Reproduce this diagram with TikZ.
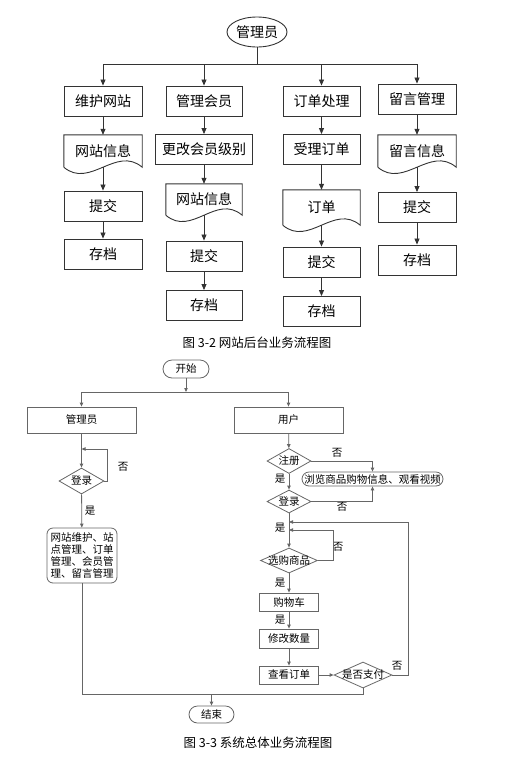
\documentclass[tikz,border=0pt]{standalone}
\usepackage{fontspec}
\newfontfamily\cjk{Noto Sans CJK SC}
\usetikzlibrary{arrows.meta,shapes.geometric}
\definecolor{linea}{gray}{0.2}
\definecolor{lineb}{gray}{0.4}
\tikzset{
  boxa/.style={draw=linea, line width=0.9pt, minimum height=30, inner sep=0},
  doca/.style={minimum height=#1, inner sep=0},
  arra/.style={draw=linea, line width=0.8pt, -{Triangle[length=6pt,width=5pt]}},
  boxb/.style={draw=lineb, line width=0.8pt, minimum height=18, minimum width=59, inner sep=0},
  decb/.style={diamond, draw=lineb, line width=0.8pt, inner sep=0},
  termb/.style={draw=lineb, line width=0.8pt, rounded corners=#1, inner sep=0},
  arrb/.style={draw=lineb, line width=0.8pt, -{Triangle[length=4pt,width=3.4pt]}},
  wireb/.style={draw=lineb, line width=0.8pt}
}
\begin{document}
\begin{tikzpicture}[x=1pt,y=-1pt]
\useasboundingbox (0,0) rectangle (517,772);
% back office flow
\begin{scope}[font=\cjk\fontsize{14}{16}\selectfont]
\node[ellipse, draw=linea, line width=0.9pt, minimum width=60, minimum height=30, inner sep=0] (adm) at (257,32) {管理员};
\coordinate (bus) at (257,64);
\node[boxa, minimum width=78] (site) at (103,101) {维护网站};
\node[boxa, minimum width=76] (mem) at (204,101) {管理会员};
\node[boxa, minimum width=77] (ord) at (321.5,101) {订单处理};
\node[boxa, minimum width=78] (msg) at (417,99) {留言管理};
\node[doca=32, minimum width=78] (siteinfo) at (103,151) {网站信息};
\node[boxa, minimum width=97] (grade) at (204,149.5) {更改会员级别};
\node[boxa, minimum width=77] (accept) at (321.5,149.5) {受理订单};
\node[doca=32, minimum width=78] (msginfo) at (417,151) {留言信息};
\node[boxa, minimum width=78] (sitesub) at (103,206) {提交};
\node[doca=31, minimum width=76] (meminfo) at (204,199.5) {网站信息};
\node[doca=35, minimum width=77] (ordform) at (321.5,207.5) {订单};
\node[boxa, minimum width=78] (msgsub) at (417,207.5) {提交};
\node[boxa, minimum width=78] (sitearc) at (103,254) {存档};
\node[boxa, minimum width=76] (memsub) at (204,256) {提交};
\node[boxa, minimum width=77] (ordsub) at (321.5,262) {提交};
\node[boxa, minimum width=78] (msgarc) at (417,260) {存档};
\node[boxa, minimum width=76] (memarc) at (204,305.5) {存档};
\node[boxa, minimum width=77] (ordarc) at (321.5,311.5) {存档};
\foreach \d in {siteinfo,msginfo,meminfo,ordform}
  \draw[linea, line width=0.9pt] (\d.south west) -- (\d.north west) -- (\d.north east) -- (\d.south east)
    .. controls +(-26,-22) and +(26,22) .. (\d.south west);
\draw[linea, line width=0.8pt] (adm.south) -- (bus);
\draw[linea, line width=0.8pt] (site.north |- bus) -- (msg.north |- bus);
\foreach \n in {site,mem,ord,msg}
  \draw[arra] (\n.north |- bus) -- (\n);
\foreach \a/\b in {site/siteinfo,siteinfo/sitesub,sitesub/sitearc,
    mem/grade,grade/meminfo,meminfo/memsub,memsub/memarc,
    ord/accept,accept/ordform,ordform/ordsub,ordsub/ordarc,
    msg/msginfo,msginfo/msgsub,msgsub/msgarc}
  \draw[arra] (\a) -- (\b);
\end{scope}
\node[font=\cjk\fontsize{12.5}{14}\selectfont] (cap1) at (257,343) {图 3-2 网站后台业务流程图};
% whole system flow
\begin{scope}[font=\cjk\fontsize{10.5}{12}\selectfont]
\node[termb=9, minimum width=46, minimum height=18] (start) at (186,369) {开始};
\coordinate (top) at (186,392);
\node[boxb, minimum width=109, minimum height=26] (admin) at (81.5,420) {管理员};
\node[boxb, minimum width=109, minimum height=26] (user) at (288.5,420) {用户};
\node[decb, minimum width=45, minimum height=26, label={center:登录}] (alog) at (81.5,481) {};
\coordinate (alp) at (81.5,449);
\node[termb=6, minimum width=70, minimum height=55, align=center] (work) at (82,555.5) {网站维护、站\\点管理、订单\\管理、会员管\\理、留言管理};
\node[decb, minimum width=44, minimum height=25, label={center:注册}] (reg) at (289,461) {};
\node[termb=7, minimum width=141, minimum height=14] (browse) at (372.5,479) {浏览商品购物信息、观看视频};
\node[decb, minimum width=44, minimum height=23, label={center:登录}] (ulog) at (289,501.5) {};
\coordinate (jout) at (289,522);
\coordinate (jin) at (289,530);
\node[decb, minimum width=57, minimum height=25, label={center:选购商品}] (buy) at (289,560.5) {};
\node[boxb] (cart) at (289,602) {购物车};
\node[boxb, minimum height=19] (qty) at (289,638.5) {修改数量};
\node[boxb] (order) at (289,675) {查看订单};
\node[decb, minimum width=58, minimum height=26, label={center:是否支付}] (pay) at (363,675) {};
\coordinate (low) at (211.5,694);
\node[termb=8.5, minimum width=45, minimum height=17] (end) at (211.5,714.5) {结束};
\node (no1) at (123,467) {否};
\node (yes1) at (90,511) {是};
\node (no2) at (337,453) {否};
\node (yes2) at (280,479) {是};
\node (no3) at (342,507) {否};
\node (yes3) at (280,528) {是};
\node (no4) at (338,547) {否};
\node (yes4) at (280,583) {是};
\node (yes5) at (280,620) {是};
\node (no5) at (397,666) {否};
\draw[arrb] (start) -- (top);
\draw[wireb] (admin.north |- top) -- (user.north |- top);
\draw[arrb] (admin.north |- top) -- (admin);
\draw[arrb] (user.north |- top) -- (user);
\draw[arrb] (admin) -- (alog);
\draw[arrb] (alog.east) -- ++(3,0) |- (alp);
\draw[arrb] (alog) -- (work);
\draw[wireb] (work.south) |- (pay.south |- low) -- (pay.south);
\draw[arrb] (low) -- (end);
\draw[arrb] (user) -- (reg);
\draw[arrb] (reg.east) -| (browse.north);
\draw[arrb] (ulog.east) -| (browse.south);
\draw[arrb] (reg) -- (ulog);
\draw[arrb] (ulog) -- (buy);
\draw[arrb] (buy.east) -- ++(15,0) |- (jin);
\draw[arrb] (buy) -- (cart);
\draw[arrb] (cart) -- (qty);
\draw[arrb] (qty) -- (order);
\draw[arrb] (order) -- (pay);
\draw[arrb] (pay.east) -- ++(16,0) |- (jout);
\end{scope}
\node[font=\cjk\fontsize{12.5}{14}\selectfont] (cap2) at (258,743) {图 3-3 系统总体业务流程图};
\end{tikzpicture}
\end{document}
